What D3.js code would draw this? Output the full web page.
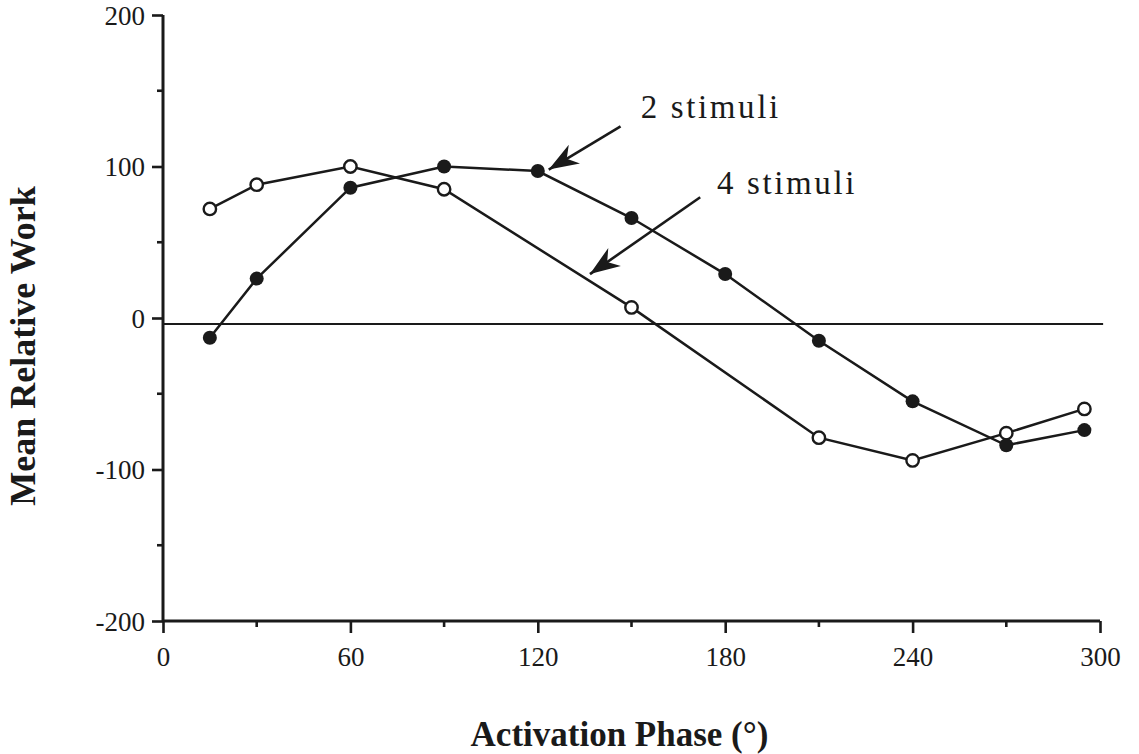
<!DOCTYPE html>
<html>
<head>
<meta charset="utf-8">
<script src="https://cdn.jsdelivr.net/npm/d3@7"></script>
<style>
  html, body { margin: 0; padding: 0; background: #fff; }
  svg { display: block; }
  text { font-family: "Liberation Serif", "Times New Roman", serif; fill: #1a1a1a; }
</style>
</head>
<body>
<svg id="chart" width="1139" height="754"></svg>
<script>
// Activation phase (degrees) for each series
const phase2 = [15, 30, 60, 90, 120, 150, 180, 210, 240, 270, 295];
const work2  = [-13, 26, 86, 100, 97, 66, 29, -15, -55, -84, -74];

const phase4 = [15, 30, 60, 90, 150, 210, 240, 270, 295];
const work4  = [72, 88, 100, 85, 7, -79, -94, -76, -60];

const xTicks = [0, 60, 120, 180, 240, 300];
const yTicks = [-200, -100, 0, 100, 200];
const xMinor = [30, 90, 150, 210, 270];
const yMinor = [-150, -50, 50, 150];

// Horizontal reference line level
const refLevel = -4;

// Callout labels: label anchor, arrow tail and arrow tip in data units
const callouts = [
  { label: "2 stimuli", at: [153, 132], tail: [146.5, 126.5], tip: [123.5, 98] },
  { label: "4 stimuli", at: [177.4, 81.6], tail: [172, 79.7], tip: [136.7, 29] }
];

const svg = d3.select("#chart");
const margin = { left: 163, right: 39, top: 15, bottom: 133 };
const W = 1139, H = 754;

const x = d3.scaleLinear().domain([0, 300]).range([margin.left, W - margin.right]);
const y = d3.scaleLinear().domain([-200, 200]).range([H - margin.bottom, margin.top]);

const ink = "#1a1a1a";
const plain = d => String(d);

// Reference line
svg.append("line")
  .attr("x1", x(0)).attr("x2", x(301))
  .attr("y1", y(refLevel)).attr("y2", y(refLevel))
  .attr("stroke", ink).attr("stroke-width", 2);

// Y axis
const yAxis = svg.append("g").attr("transform", `translate(${x(0)},0)`);
yAxis.call(d3.axisLeft(y).tickValues(yTicks).tickSize(11).tickPadding(7).tickFormat(plain));
yAxis.append("g").selectAll("line").data(yMinor).join("line")
  .attr("x1", -6).attr("x2", 0).attr("y1", d => y(d)).attr("y2", d => y(d));

// X axis
const xAxis = svg.append("g").attr("transform", `translate(0,${y(-200)})`);
xAxis.call(d3.axisBottom(x).tickValues(xTicks).tickSize(12).tickPadding(14).tickFormat(plain));
xAxis.append("g").selectAll("line").data(xMinor).join("line")
  .attr("x1", d => x(d)).attr("x2", d => x(d)).attr("y1", 0).attr("y2", 6);

[yAxis, xAxis].forEach(g => {
  g.select(".domain").attr("stroke", ink).attr("stroke-width", 3);
  g.selectAll("line").attr("stroke", ink).attr("stroke-width", 2.6);
  g.selectAll("text").attr("font-size", 27).attr("fill", ink)
    .style("font-family", "'Liberation Serif', serif");
});
yAxis.select(".domain").attr("d", `M0,${y(-200)}V${y(200)}`);
xAxis.select(".domain").attr("d", `M${x(0)},0H${x(300)}`);
yAxis.selectAll(".tick text").attr("dy", "0.34em");

// Series lines
const line = d3.line().x(d => x(d[0])).y(d => y(d[1]));
const s2 = phase2.map((p, i) => [p, work2[i]]);
const s4 = phase4.map((p, i) => [p, work4[i]]);

svg.append("path").datum(s4).attr("d", line)
  .attr("fill", "none").attr("stroke", ink).attr("stroke-width", 2.5);
svg.append("path").datum(s2).attr("d", line)
  .attr("fill", "none").attr("stroke", ink).attr("stroke-width", 2.5);

svg.append("g").selectAll("circle").data(s4).join("circle")
  .attr("cx", d => x(d[0])).attr("cy", d => y(d[1])).attr("r", 6.2)
  .attr("fill", "#fff").attr("stroke", ink).attr("stroke-width", 2.4);
svg.append("g").selectAll("circle").data(s2).join("circle")
  .attr("cx", d => x(d[0])).attr("cy", d => y(d[1])).attr("r", 7)
  .attr("fill", ink);

// Callout arrows with barbed heads
svg.append("defs").append("marker")
  .attr("id", "barb")
  .attr("viewBox", "-30 -12 32 24")
  .attr("refX", 0).attr("refY", 0)
  .attr("markerUnits", "userSpaceOnUse")
  .attr("markerWidth", 32).attr("markerHeight", 24)
  .attr("orient", "auto")
  .append("path")
  .attr("d", "M0,0 L-30,-11 L-21,0 L-30,11 Z")
  .attr("fill", ink);

callouts.forEach(c => {
  svg.append("line")
    .attr("x1", x(c.tail[0])).attr("y1", y(c.tail[1]))
    .attr("x2", x(c.tip[0])).attr("y2", y(c.tip[1]))
    .attr("stroke", ink).attr("stroke-width", 2.6)
    .attr("marker-end", "url(#barb)");
  svg.append("text")
    .attr("x", x(c.at[0])).attr("y", y(c.at[1]))
    .attr("font-size", 33).attr("letter-spacing", 2.6)
    .text(c.label);
});

// Axis titles
svg.append("text")
  .attr("x", (x(0) + x(300)) / 2 - 12).attr("y", 746)
  .attr("text-anchor", "middle").attr("font-size", 35).attr("font-weight", "bold")
  .text("Activation Phase (°)");

svg.append("text")
  .attr("transform", `translate(35,${(y(-200) + y(200)) / 2 + 28}) rotate(-90)`)
  .attr("text-anchor", "middle").attr("font-size", 36).attr("font-weight", "bold")
  .text("Mean Relative Work");
</script>
</body>
</html>
